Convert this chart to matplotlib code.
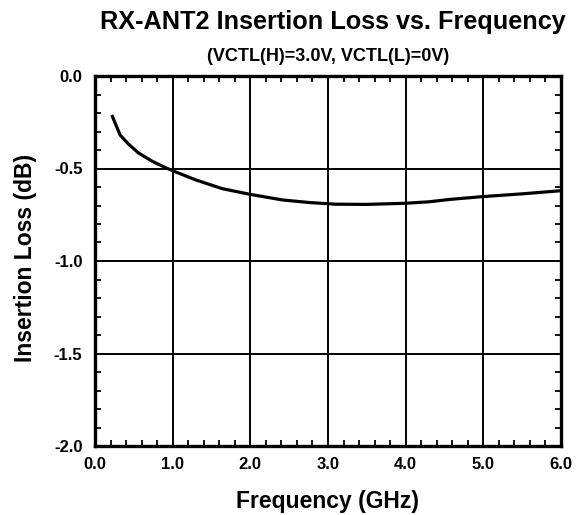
import matplotlib
matplotlib.use("Agg")
import matplotlib.pyplot as plt
from matplotlib.ticker import MultipleLocator

plt.rcParams['font.family'] = ['Liberation Sans', 'DejaVu Sans']
plt.rcParams['font.weight'] = 'bold'

freq_ghz = [0.216, 0.323, 0.431, 0.56, 0.733, 0.905, 1.0, 1.293, 1.638, 2.0, 2.414,
            2.76, 3.1, 3.5, 3.99, 4.3, 4.57, 4.99, 5.5, 6.0]
loss_db = [-0.211, -0.319, -0.368, -0.416, -0.46, -0.495, -0.512, -0.561, -0.609, -0.64, -0.67,
           -0.684, -0.693, -0.694, -0.688, -0.68, -0.667, -0.652, -0.637, -0.62]

x_ticks = [0.0, 1.0, 2.0, 3.0, 4.0, 5.0, 6.0]
y_ticks = [0.0, -0.5, -1.0, -1.5, -2.0]

fig = plt.figure(figsize=(5.84, 5.15), dpi=100)
ax = fig.add_axes([95/584, 1 - 446/515, (561-95)/584, (446-76)/515])

ax.plot(freq_ghz, loss_db, color='black', lw=2.3, solid_capstyle='butt')
ax.set_xlim(0, 6)
ax.set_ylim(-2, 0)
ax.set_xticks(x_ticks)
ax.set_xticklabels([f"{v:.1f}" for v in x_ticks])
ax.set_yticks(y_ticks)
ax.set_yticklabels([f"{v:.1f}" for v in y_ticks])
ax.xaxis.set_minor_locator(MultipleLocator(0.2))
ax.yaxis.set_minor_locator(MultipleLocator(0.1))
ax.grid(True, which='major', color='black', lw=1.4)
ax.tick_params(which='both', direction='in', top=True, right=True, color='black')
ax.tick_params(which='major', length=0, labelsize=12)
ax.tick_params(axis='x', which='major', pad=8)
ax.tick_params(axis='y', which='major', pad=9)
ax.tick_params(which='minor', length=4, width=1.3)
for s in ax.spines.values():
    s.set_linewidth(2.4)
for lbl in ax.get_xticklabels() + ax.get_yticklabels():
    lbl.set_fontweight('bold')

fig.text(328/584, 1 - 508/515, 'Frequency (GHz)', ha='center', va='baseline',
         fontsize=16.5, fontweight='bold')
fig.text(26/584, 1 - 258/515, 'Insertion Loss (dB)', ha='center', va='center', rotation=90,
         fontsize=16.5, fontweight='bold')
fig.text(332.5/584, 1 - 29/515, 'RX-ANT2 Insertion Loss vs. Frequency', ha='center', va='baseline',
         fontsize=18.2, fontweight='bold')
fig.text(328/584, 1 - 61/515, '(VCTL(H)=3.0V, VCTL(L)=0V)', ha='center', va='baseline',
         fontsize=13, fontweight='bold')

fig.savefig('out.png', dpi=100)
